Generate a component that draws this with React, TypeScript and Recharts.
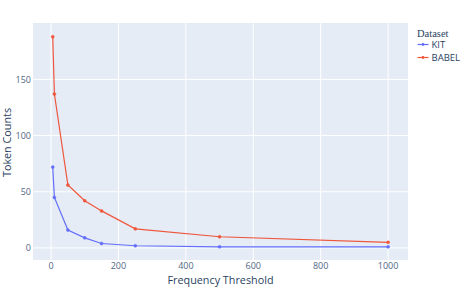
import { LineChart, Line, XAxis, YAxis, CartesianGrid } from 'recharts';

const thresholds = [5, 10, 50, 100, 150, 250, 500, 1000];
const kitCounts = [72, 45, 16, 9, 4, 2, 1, 1];
const babelCounts = [188, 137, 56, 42, 33, 17, 10, 5];
const xTicks = [0, 200, 400, 600, 800, 1000];
const yTicks = [0, 50, 100, 150];

const data = thresholds.map((t, i) => ({ t, KIT: kitCounts[i], BABEL: babelCounts[i] }));

const KIT_COLOR = '#636efa';
const BABEL_COLOR = '#EF553B';
const font = '"Open Sans", sans-serif';

const series = [
  { name: 'KIT', color: KIT_COLOR },
  { name: 'BABEL', color: BABEL_COLOR },
];

// legend drawn as a small svg on top of the chart
const LegendBox = () => (
  <svg width={60} height={50} style={{ position: 'absolute', left: 410, top: 22 }}>
    <text x={7} y={14.5} fontFamily='"Liberation Serif", serif' fontSize={10.5} fill="#2a3f5f">
      Dataset
    </text>
    {series.map((s, i) => {
      const cy = 22.5 + i * 13;
      return (
        <g key={s.name}>
          <line x1={7.5} y1={cy} x2={18.5} y2={cy} stroke={s.color} strokeWidth={1.2} />
          <circle cx={13} cy={cy} r={1.4} fill={s.color} />
          <text x={21.5} y={cy + 3.2} fontFamily={font} fontSize={9.5} fill="#2a3f5f">
            {s.name}
          </text>
        </g>
      );
    })}
  </svg>
);

const YTitle = () => (
  <text transform="translate(11,142.5) rotate(-90)" textAnchor="middle" fill="#2a3f5f" fontSize={10.8} fontFamily={font}>
    Token Counts
  </text>
);

const XTitle = () => (
  <text x={220.5} y={283.5} textAnchor="middle" fill="#2a3f5f" fontSize={10.8} fontFamily={font}>
    Frequency Threshold
  </text>
);

export default function App() {
  return (
    <div style={{ position: 'absolute', left: 0, top: 0, width: 466, height: 292, background: '#fff' }}>
      <LineChart width={466} height={292} data={data} margin={{ top: 23, right: 58, left: 0, bottom: 0 }}>
        <CartesianGrid fill="#E5ECF6" stroke="#ffffff" strokeWidth={1} horizontalValues={yTicks} verticalValues={xTicks} />
        <XAxis
          dataKey="t"
          type="number"
          domain={[-53.5, 1059]}
          ticks={xTicks}
          axisLine={false}
          tickLine={false}
          tickSize={0}
          tickMargin={3}
          height={32}
          tick={{ fill: '#506784', fontSize: 9, fontFamily: font }}
          label={{ content: () => <XTitle /> }}
        />
        <YAxis
          type="number"
          domain={[-10.7, 200.2]}
          ticks={yTicks}
          axisLine={false}
          tickLine={false}
          tickSize={0}
          tickMargin={2}
          width={33}
          tick={{ fill: '#506784', fontSize: 9, fontFamily: font }}
          label={{ content: () => <YTitle /> }}
        />
        <Line
          dataKey="KIT"
          stroke={KIT_COLOR}
          strokeWidth={1.2}
          dot={{ r: 1.5, fill: KIT_COLOR, stroke: KIT_COLOR, strokeWidth: 0.5 }}
          isAnimationActive={false}
        />
        <Line
          dataKey="BABEL"
          stroke={BABEL_COLOR}
          strokeWidth={1.2}
          dot={{ r: 1.5, fill: BABEL_COLOR, stroke: BABEL_COLOR, strokeWidth: 0.5 }}
          isAnimationActive={false}
        />
      </LineChart>
      <LegendBox />
    </div>
  );
}
